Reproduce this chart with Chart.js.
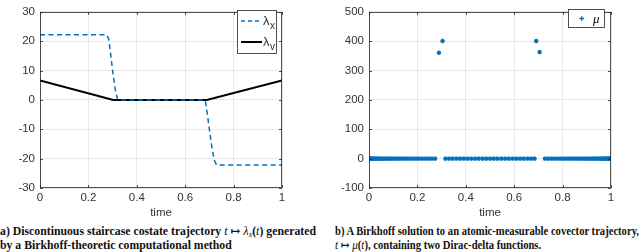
<!DOCTYPE html>
<html><head><meta charset="utf-8">
<script src="https://cdn.jsdelivr.net/npm/chart.js@4"></script>
<style>
body{margin:0;width:640px;height:252px;background:#fff;overflow:hidden;position:relative}
.pane{position:absolute;top:0;width:320px;height:220px}
canvas{display:block}
.cap{position:absolute;font-family:"Liberation Serif","DejaVu Serif",serif;font-weight:bold;font-size:12px;line-height:14px;color:#111;white-space:nowrap;transform-origin:0 0}
.cap i{font-weight:normal;font-size:12.5px}
.cap sub{font-size:8px;line-height:0;vertical-align:-2px}
</style></head><body>
<div class="pane" style="left:0"><canvas id="c1" width="320" height="220"></canvas></div>
<div class="pane" style="left:320px"><canvas id="c2" width="320" height="220"></canvas></div>
<div class="cap" data-w="316" style="left:0;top:224px"><span>a) Discontinuous staircase costate trajectory <i>t</i> ↦ <i>λ<sub>x</sub></i>(<i>t</i>) generated</span><br>by a Birkhoff-theoretic computational method</div>
<div class="cap" data-w="304" style="left:335px;top:224px"><span>b) A Birkhoff solution to an atomic-measurable covector trajectory,</span><br><i>t</i> ↦ <i>μ</i>(<i>t</i>), containing two Dirac-delta functions.</div>
<script>
const xTicks=[0,0.2,0.4,0.6,0.8,1];
const lamXt=[0,0.275,0.283,0.29,0.30,0.31,0.32,0.325,0.68,0.685,0.69,0.70,0.71,0.72,0.73,1];
const lamX =[22.2,22.2,21,17,10,4,0.3,0,0,-1,-4,-10,-16,-20.5,-22.2,-22.2];
const lamVt=[0,0.303,0.689,1];
const lamV =[6.6,0,0,6.6];
// zero-valued nodes of mu (clustered at the ends)
const muZeroT=[0,0.0003,0.001,0.0022,0.0039,0.0062,0.0089,0.012,0.0157,0.0199,0.0245,0.0296,0.0351,0.0411,0.0476,0.0545,0.0619,0.0696,0.0778,0.0865,0.0955,0.1049,0.1147,0.1249,0.1355,0.1465,0.1577,0.1693,0.1813,0.1936,0.2061,0.219,0.2321,0.2455,0.2591,0.273,
 0.3159,0.3306,0.3455,0.3606,0.3758,0.3912,0.4067,0.4222,0.4379,0.4536,0.4693,0.4843,0.5,0.5157,0.5307,0.5464,0.5621,0.5778,0.5933,0.6088,0.6242,0.6394,0.6545,0.6694,0.6841,
 0.727,0.7409,0.7545,0.7679,0.781,0.7939,0.8064,0.8187,0.8307,0.8423,0.8535,0.8645,0.8751,0.8853,0.8951,0.9045,0.9135,0.9222,0.9304,0.9381,0.9455,0.9524,0.9589,0.9649,0.9704,0.9755,0.9801,0.9843,0.988,0.9911,0.9938,0.9961,0.9978,0.999,0.9997,1];
const muSpikeT=[0.289,0.304,0.691,0.705];
const muSpike =[361,401,401,363];
const yTicks1=[-30,-20,-10,0,10,20,30];
const yTicks2=[-100,0,100,200,300,400,500];

const BLUE="#0072BD", AX="#262626", TXT="#333";
const pts=(xs,ys)=>xs.map((x,i)=>({x,y:ys[i]}));

// squeeze each caption so its first line matches the picture's width
document.querySelectorAll(".cap").forEach(el=>{const w=el.querySelector("span").getBoundingClientRect().width;el.style.transform=`scaleX(${el.dataset.w/w})`;});

const legends={
  c1(g){g.fillStyle="#fff";g.fillRect(237,10,39,43);g.strokeStyle=AX;g.lineWidth=0.8;g.strokeRect(237.5,10.5,39,43);
    g.strokeStyle=BLUE;g.lineWidth=1.5;g.setLineDash([4,3]);g.beginPath();g.moveTo(241,21);g.lineTo(262,21);g.stroke();
    g.setLineDash([]);g.strokeStyle="#000";g.lineWidth=2;g.beginPath();g.moveTo(241,42);g.lineTo(262,42);g.stroke();
    g.fillStyle=TXT;g.textBaseline="alphabetic";g.font="13px 'Liberation Sans'";g.fillText("λ",263,25);g.fillText("λ",263,46);
    g.font="10px 'Liberation Sans'";g.fillText("x",270,29);g.fillText("v",270,50);},
  c2(g){g.fillStyle="#fff";g.fillRect(248,9,36,18);g.strokeStyle=AX;g.lineWidth=0.8;g.strokeRect(248.5,9.5,36,18);
    g.strokeStyle=BLUE;g.lineWidth=1.4;g.beginPath();g.moveTo(259.5,18.5);g.lineTo(264,18.5);g.moveTo(261.7,16.3);g.lineTo(261.7,20.7);g.stroke();
    g.fillStyle="#000";g.font="italic 13px 'Liberation Serif'";g.textBaseline="alphabetic";g.fillText("μ",273,23);}
};

const boxPlug={id:"box",afterDraw(c){const a=c.chartArea,g=c.ctx;g.save();g.strokeStyle=AX;g.lineWidth=0.8;
  g.strokeRect(a.left+0.5,a.top+0.5,a.right-a.left-1,a.bottom-a.top-1);
  // inward ticks
  g.beginPath();const xs=c.scales.x,ys=c.scales.y;
  xs.ticks.forEach(t=>{const p=Math.round(xs.getPixelForValue(t.value))+0.5;g.moveTo(p,a.bottom);g.lineTo(p,a.bottom-3);g.moveTo(p,a.top);g.lineTo(p,a.top+3);});
  ys.ticks.forEach(t=>{const p=Math.round(ys.getPixelForValue(t.value))+0.5;g.moveTo(a.left,p);g.lineTo(a.left+3,p);g.moveTo(a.right,p);g.lineTo(a.right-3,p);});
  g.stroke();
  legends[c.canvas.id](g);
  g.restore();}};

function scales(ymin,ymax,yt,yw){return{
  x:{type:"linear",min:0,max:1,afterBuildTicks:s=>{s.ticks=xTicks.map(v=>({value:v}))},
     afterFit:s=>{s.height=32},
     ticks:{color:TXT,font:{family:"Liberation Sans",size:11.5},padding:3,callback:v=>String(v)},
     grid:{color:"#e8e8e8",drawTicks:false},border:{display:false},
     title:{display:true,text:"time",color:TXT,font:{family:"Liberation Sans",size:11.5},padding:{top:1,bottom:0}}},
  y:{min:ymin,max:ymax,afterBuildTicks:s=>{s.ticks=yt.map(v=>({value:v}))},afterFit:s=>{s.width=yw},
     ticks:{color:TXT,font:{family:"Liberation Sans",size:11.5},padding:5},
     grid:{color:"#e8e8e8",drawTicks:false},border:{display:false}}};}

new Chart(document.getElementById("c1"),{type:"line",
  data:{datasets:[
    {label:"λx",data:pts(lamXt,lamX),borderColor:BLUE,borderWidth:1.5,borderDash:[5,3.5],pointRadius:0,tension:0},
    {label:"λv",data:pts(lamVt,lamV),borderColor:"#000",borderWidth:2,pointRadius:0,tension:0}]},
  options:{responsive:false,animation:false,layout:{padding:{left:0,right:38,top:4,bottom:0}},
    plugins:{legend:{display:false},tooltip:{enabled:false}},
    scales:scales(-30,30,yTicks1,40)},
  plugins:[boxPlug]});

new Chart(document.getElementById("c2"),{type:"scatter",
  data:{datasets:[
    {label:"μ0",data:muZeroT.map(t=>({x:t,y:0})),pointStyle:"star",pointRadius:2.2,borderColor:BLUE,backgroundColor:BLUE,borderWidth:1.4,showLine:false},
    {label:"μ",data:pts(muSpikeT,muSpike),pointStyle:"star",pointRadius:2.2,borderColor:BLUE,backgroundColor:BLUE,borderWidth:1.4,showLine:false}]},
  options:{responsive:false,animation:false,layout:{padding:{left:0,right:29,top:4,bottom:0}},
    plugins:{legend:{display:false},tooltip:{enabled:false}},
    scales:scales(-100,500,yTicks2,49)},
  plugins:[boxPlug]});
</script></body></html>
